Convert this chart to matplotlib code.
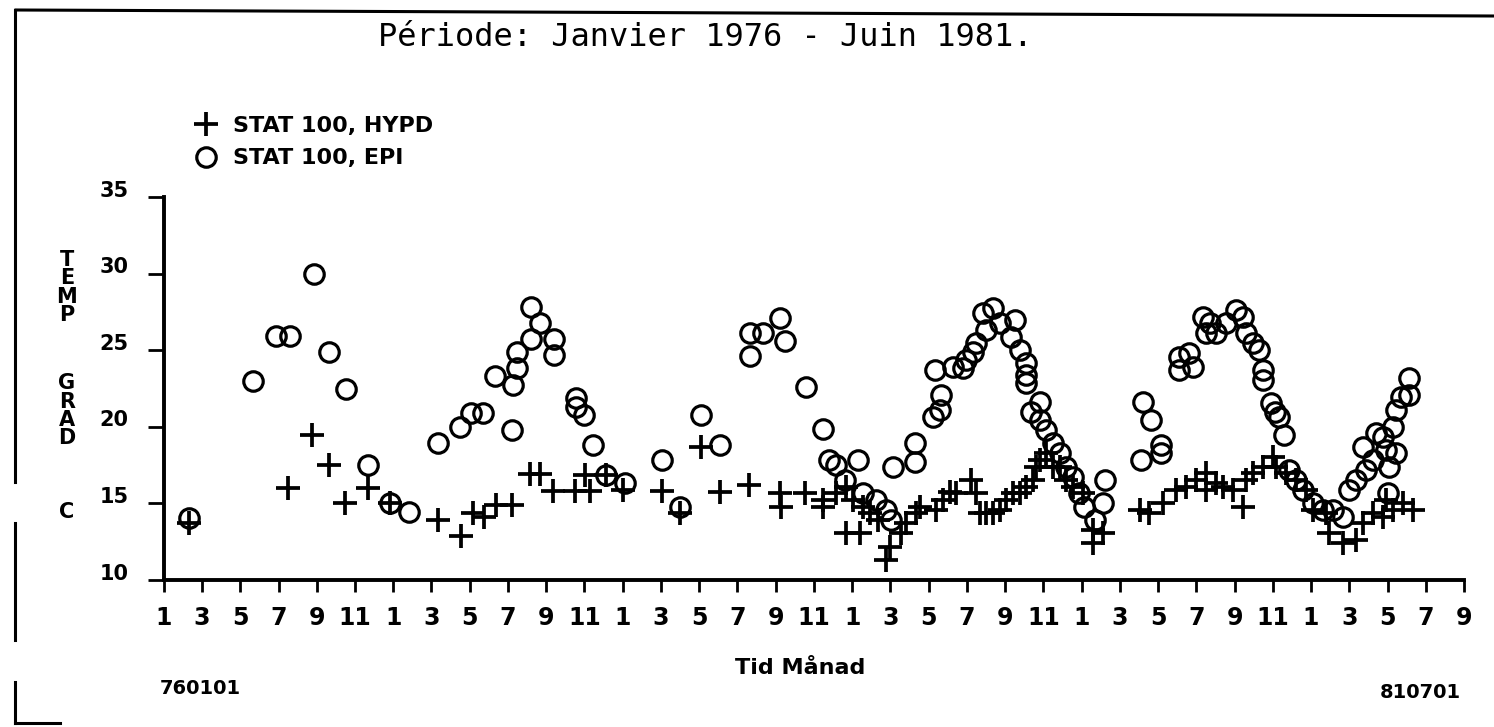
import matplotlib
matplotlib.use('Agg')
import matplotlib.pyplot as plt
from matplotlib.lines import Line2D
from matplotlib.transforms import ScaledTranslation

W, H = 1494, 727

# månad räknat från januari 1976 (0 = jan 1976), temperatur i grad C
hypo_month = [1.34, 6.49, 7.75, 8.62, 9.46, 10.67, 11.81, 14.33, 15.55, 16.16,
              16.77, 17.40, 18.19, 19.14, 19.66, 20.36, 21.50, 22.02, 22.28, 23.15,
              24.02, 26.08, 26.98, 28.12, 29.07, 30.61, 32.21, 32.30, 33.52, 34.47,
              34.47, 35.17, 35.70, 36.04, 36.57, 36.91, 35.70, 36.39, 37.35, 37.96,
              37.79, 38.57, 38.83, 39.36, 39.53, 40.40, 40.75, 41.10, 41.44, 42.23,
              42.49, 42.67, 43.02, 43.36, 43.71, 44.06, 44.41, 44.76, 45.11, 45.45,
              45.63, 45.80, 46.15, 46.50, 46.85, 47.20, 47.54, 48.07, 48.59, 49.11,
              48.59, 51.03, 51.55, 52.25, 52.95, 53.47, 53.99, 54.52, 54.52, 55.04,
              55.39, 55.91, 56.43, 56.61, 56.95, 57.48, 58.00, 58.18, 58.70, 59.22,
              59.74, 60.09, 60.79, 60.96, 61.66, 62.36, 62.70, 63.23, 63.75, 64.27,
              64.79, 65.32, 63.93]
hypo_temp = [13.70, 15.99, 19.46, 17.51, 15.01, 15.99, 15.01, 13.92, 12.87, 14.35,
             14.13, 14.90, 14.90, 16.90, 16.90, 15.83, 15.83, 16.85, 15.83, 16.85,
             15.87, 15.83, 14.35, 18.70, 15.77, 16.20, 15.66, 14.78, 15.66, 14.78,
             15.22, 15.66, 16.09, 15.22, 14.78, 14.35, 13.05, 13.05, 13.92, 12.17,
             11.31, 13.05, 13.70, 14.35, 14.78, 14.57, 15.22, 15.76, 15.66, 16.53,
             15.66, 14.35, 14.35, 14.35, 14.57, 15.22, 15.66, 15.66, 16.09, 16.53,
             17.40, 17.83, 18.27, 17.40, 17.40, 16.53, 16.09, 15.66, 13.26, 13.05,
             12.40, 14.57, 14.35, 15.01, 15.87, 16.09, 16.53, 16.96, 15.87, 16.31,
             16.09, 15.87, 14.78, 16.53, 16.96, 17.40, 18.05, 17.40, 16.96, 16.53,
             15.87, 14.57, 14.35, 13.05, 12.40, 12.61, 13.70, 14.35, 14.13, 14.57,
             15.01, 14.57, 15.22]

epi_month = [1.34, 4.66, 5.88, 6.58, 7.84, 8.62, 9.51, 10.67, 11.81, 12.84,
             14.33, 15.47, 16.07, 16.69, 17.31, 18.19, 18.27, 18.45, 18.45, 19.23,
             19.23, 19.67, 20.40, 20.40, 21.58, 21.55, 21.97, 22.45, 23.12, 24.11,
             26.08, 26.98, 28.12, 29.11, 30.64, 30.64, 31.34, 32.21, 32.47, 33.57,
             34.47, 34.79, 35.17, 36.30, 35.61, 36.55, 37.27, 37.79, 38.05, 38.14,
             39.27, 39.27, 40.23, 40.57, 40.66, 40.31, 41.27, 41.79, 41.97, 42.31,
             42.49, 42.83, 43.36, 43.01, 43.71, 44.50, 44.32, 44.76, 45.11, 45.11,
             45.11, 45.80, 45.37, 45.80, 46.15, 46.50, 46.85, 47.20, 47.54, 47.89,
             48.15, 49.20, 49.11, 48.68, 51.20, 51.64, 52.16, 52.16, 51.12, 53.12,
             53.12, 53.64, 53.82, 54.34, 54.69, 55.04, 54.52, 55.56, 56.09, 56.43,
             56.61, 56.95, 57.30, 57.48, 57.48, 57.91, 58.09, 58.35, 58.61, 58.87,
             59.22, 59.57, 60.09, 60.61, 61.13, 61.66, 62.01, 62.36, 62.70, 62.88,
             63.23, 63.40, 63.75, 63.93, 64.10, 64.45, 64.27, 64.45, 64.71, 65.14,
             65.14, 64.01]
epi_temp = [14.03, 22.99, 25.93, 25.93, 29.95, 24.90, 22.45, 17.51, 15.01, 14.46,
            18.96, 20.01, 20.88, 20.88, 23.32, 19.79, 22.73, 23.82, 24.90, 25.71,
            27.80, 26.76, 25.71, 24.69, 21.86, 21.31, 20.77, 18.81, 16.85, 16.31,
            17.83, 14.78, 20.77, 18.81, 26.10, 24.62, 26.10, 27.08, 25.62, 22.62,
            19.84, 17.83, 17.51, 17.83, 16.53, 15.68, 15.22, 14.57, 13.92, 17.40,
            18.92, 17.72, 20.66, 21.10, 22.08, 23.71, 23.92, 23.82, 24.36, 24.90,
            25.45, 27.41, 27.73, 26.32, 26.76, 26.97, 25.88, 25.01, 24.14, 23.38,
            22.84, 21.64, 20.99, 20.44, 19.79, 18.92, 18.27, 17.40, 16.74, 15.66,
            14.78, 16.53, 15.01, 13.92, 21.64, 20.44, 18.81, 18.27, 17.83, 23.71,
            24.58, 24.80, 23.92, 27.19, 26.76, 26.10, 26.10, 26.76, 27.62, 27.19,
            26.10, 25.45, 25.01, 23.71, 23.05, 21.53, 20.99, 20.66, 19.46, 17.18,
            16.53, 15.87, 15.01, 14.57, 14.57, 14.13, 15.87, 16.53, 18.70, 17.18,
            17.83, 19.58, 19.35, 18.49, 17.40, 18.27, 20.01, 21.10, 21.96, 22.08,
            23.17, 15.66]

x_ticks = list(range(0, 69, 2))
x_ticklabels = ['1', '3', '5', '7', '9', '11'] * 5 + ['1', '3', '5', '7', '9']
y_ticks = [10, 15, 20, 25, 30, 35]

fig = plt.figure(figsize=(W / 100, H / 100), dpi=100)
fig.patch.set_facecolor('white')


def px(x, y):
    return x / W, 1 - y / H


ax = fig.add_axes([163.8 / W, (H - 580) / H, (1464 - 163.8) / W, (580 - 197) / H])
ax.plot(hypo_month, hypo_temp, ls='none', marker='+', ms=17, mew=2.7,
        color='black', label='STAT 100, HYPD', clip_on=False)
ax.plot(epi_month, epi_temp, ls='none', marker='o', mfc='none', ms=14, mew=2.3,
        color='black', label='STAT 100, EPI', clip_on=False)

ax.set_xlim(0, 68)
ax.set_ylim(10, 35)
for s in ['top', 'right']:
    ax.spines[s].set_visible(False)
for s in ['left', 'bottom']:
    ax.spines[s].set_linewidth(2.8)

ax.set_xticks(x_ticks)
ax.set_xticklabels(x_ticklabels, fontsize=17, fontweight='bold')
ax.set_yticks(y_ticks)
ax.set_yticklabels([str(v) for v in y_ticks], fontsize=15, fontweight='bold')
ax.tick_params(axis='x', direction='out', length=8.6, width=2, pad=10)
ax.tick_params(axis='y', direction='out', length=11.5, width=2, pad=13.7)
for lbl in ax.get_yticklabels():
    lbl.set_transform(lbl.get_transform() + ScaledTranslation(0, 6 / 72, fig.dpi_scale_trans))

# legend
fig.legend(loc='upper left', bbox_to_anchor=px(184, 105), frameon=False,
           handlelength=1.0, handletextpad=0.7, labelspacing=0.55, borderpad=0,
           numpoints=1, prop={'size': 16, 'weight': 'bold'})

# titel och texter
fig.text(*px(378, 37), 'Période: Janvier 1976 - Juin 1981.', family='DejaVu Sans Mono',
         fontsize=23, ha='left', va='center')
fig.text(*px(800, 668), 'Tid Månad', fontsize=16, fontweight='bold', ha='center', va='center')
fig.text(*px(200, 688), '760101', fontsize=14, fontweight='bold', ha='center', va='center')
fig.text(*px(1420, 692), '810701', fontsize=14, fontweight='bold', ha='center', va='center')

ylabel_letters = ['T', 'E', 'M', 'P', 'G', 'R', 'A', 'D', 'C']
ylabel_rows = [260, 278, 297, 315, 383, 402, 420, 438, 512]
for ch, yy in zip(ylabel_letters, ylabel_rows):
    fig.text(*px(67, yy), ch, fontsize=15, fontweight='bold', ha='center', va='center')

# ram runt figuren
frame = [([16, 1494], [10, 16]), ([15, 15], [10, 482]), ([15, 15], [523, 640]),
         ([15, 15], [682, 723]), ([15, 60], [723, 723])]
for xs, ys in frame:
    fig.add_artist(Line2D([x / W for x in xs], [1 - y / H for y in ys],
                          color='black', lw=2.2, transform=fig.transFigure))

fig.savefig('out.png', dpi=100, facecolor='white')
